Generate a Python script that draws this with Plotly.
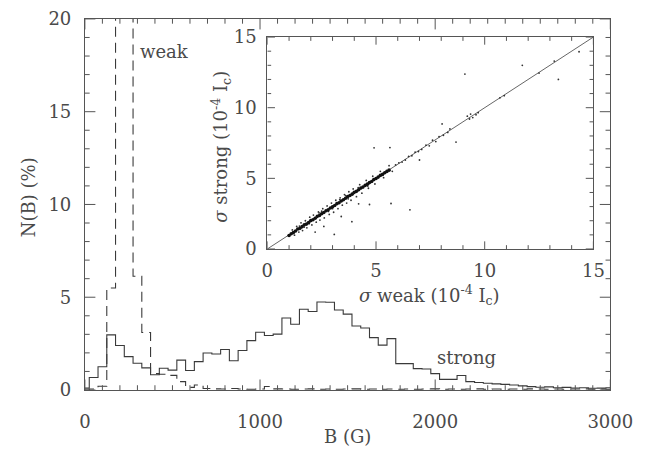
import plotly.graph_objects as go

# ---------------- data ----------------
# histogram bin centres (G)
B_centres = [0, 50, 100, 150, 200, 250, 300, 350, 400, 450, 500, 550, 600, 650, 700,
             750, 800, 850, 900, 950, 1000, 1050, 1100, 1150, 1200, 1250, 1300, 1350,
             1400, 1450, 1500, 1550, 1600, 1650, 1700, 1750, 1800, 1850, 1900, 1950,
             2000, 2050, 2100, 2150, 2200, 2250, 2300, 2350, 2400, 2450, 2500, 2550,
             2600, 2650, 2700, 2750, 2800, 2850, 2900, 2950, 3000]

N_strong = [0.10, 0.67, 1.25, 2.97, 2.40, 1.80, 1.44, 1.19, 0.82, 1.17, 1.07, 1.61,
            1.05, 1.53, 1.99, 1.94, 2.18, 1.58, 2.13, 2.66, 3.11, 2.94, 3.01, 3.88,
            3.54, 4.35, 4.23, 4.74, 4.73, 4.31, 4.09, 3.45, 3.34, 2.82, 2.42, 2.77,
            1.42, 1.42, 1.15, 1.13, 0.88, 0.57, 0.57, 0.78, 0.45, 0.40, 0.36, 0.33,
            0.30, 0.27, 0.22, 0.18, 0.15, 0.17, 0.12, 0.14, 0.11, 0.12, 0.09, 0.10, 0.12]

N_weak = [0.00, 0.05, 0.20, 5.50, 30.0, 26.0, 6.13, 3.10, 0.88, 0.85, 0.79, 0.45,
          0.14, 0.27, 0.08, 0.06, 0.05, 0.08, 0.05, 0.04, 0.05, 0.19, 0.06, 0.05,
          0.04, 0.05, 0.06, 0.04, 0.05, 0.04, 0.05, 0.06, 0.04, 0.05, 0.04, 0.05,
          0.04, 0.05, 0.04, 0.05, 0.06, 0.04, 0.05, 0.04, 0.05, 0.06, 0.04, 0.05,
          0.04, 0.05, 0.04, 0.06, 0.05, 0.04, 0.05, 0.04, 0.05, 0.06, 0.04, 0.05, 0.04]

# inset scatter: sigma weak vs sigma strong (1e-4 Ic)
core_weak = [1.0, 1.1, 1.2, 1.3, 1.4, 1.5, 1.6, 1.7, 1.8, 1.9, 2.0, 2.1, 2.2, 2.3, 2.4,
             2.5, 2.6, 2.7, 2.8, 2.9, 3.0, 3.1, 3.2, 3.3, 3.4, 3.5, 3.6, 3.7, 3.8, 3.9,
             4.0, 4.1, 4.2, 4.3, 4.4, 4.5, 4.6, 4.7, 4.8, 4.9, 5.0, 5.1, 5.2, 5.3, 5.4,
             5.5, 5.6]
core_strong = [0.95, 1.08, 1.16, 1.27, 1.41, 1.46, 1.58, 1.71, 1.76, 1.88, 2.01, 2.07,
               2.18, 2.31, 2.37, 2.49, 2.58, 2.71, 2.77, 2.90, 2.99, 3.08, 3.21, 3.27,
               3.40, 3.48, 3.59, 3.71, 3.79, 3.88, 4.01, 4.08, 4.19, 4.31, 4.38, 4.50,
               4.59, 4.70, 4.78, 4.91, 4.99, 5.09, 5.21, 5.28, 5.40, 5.49, 5.58]

halo_weak = [1.15, 1.25, 1.35, 1.45, 1.55, 1.62, 1.75, 1.82, 1.95, 2.05, 2.12, 2.25,
             2.35, 2.42, 2.55, 2.62, 2.75, 2.85, 2.95, 3.05, 3.15, 3.25, 3.35, 3.45,
             3.55, 3.65, 3.75, 3.85, 3.95, 4.10, 4.25, 4.35, 4.55, 4.65, 4.85, 4.95,
             5.20, 5.35, 5.60, 5.75, 5.90, 6.05, 6.20, 6.35, 6.50, 6.65, 6.80, 6.95,
             7.10, 7.30, 7.45, 7.60, 7.75, 7.90, 8.10, 8.30,
             3.89, 3.08, 4.91, 5.64, 5.69, 4.70, 6.56, 2.60, 3.40, 2.20, 4.20,
             8.04, 8.68, 9.09, 9.20, 9.35, 9.45, 9.60, 9.70, 9.30, 10.70, 10.90,
             11.73, 13.20, 13.39, 14.34, 12.50, 7.00, 8.40,
             1.48, 1.92, 2.38, 2.81, 3.33, 3.72, 4.18, 4.62, 1.70, 2.50, 3.00, 3.60]
halo_strong = [1.35, 0.98, 1.60, 1.20, 1.85, 1.30, 2.00, 1.50, 2.25, 1.70, 2.40, 1.90,
               2.62, 2.05, 2.85, 2.20, 3.05, 2.45, 3.25, 2.60, 3.45, 2.85, 3.62, 3.10,
               3.85, 3.25, 4.05, 3.45, 4.25, 3.70, 4.55, 3.95, 4.85, 4.30, 5.15, 4.60,
               5.50, 5.05, 5.90, 5.50, 5.95, 6.10, 6.15, 6.30, 6.55, 6.60, 6.85, 6.90,
               7.05, 7.35, 7.30, 7.70, 7.60, 7.95, 8.05, 8.25,
               1.93, 1.03, 7.16, 7.18, 3.22, 3.15, 2.77, 1.60, 2.30, 1.20, 3.20,
               8.85, 7.57, 12.38, 9.40, 9.55, 9.30, 9.50, 9.65, 9.20, 10.70, 10.85,
               13.00, 13.30, 12.00, 13.96, 12.45, 6.30, 8.50,
               1.62, 1.78, 2.55, 2.66, 3.50, 3.55, 4.35, 4.45, 1.55, 2.68, 2.85, 3.78]

diag = [0, 15]

# axis ranges and tick positions
B_range = [0, 3000]
N_range = [0, 20]
sig_range = [0, 15]
B_ticks = list(range(0, 3001, 100))
N_ticks = list(range(0, 21, 1))
sig_ticks = list(range(0, 16, 1))

# ---------------- figure ----------------
FONT = "DejaVu Serif"
TXT = "#4a4a4a"
AX = "#555555"
W, H = 662, 463
FS = 18

# subplot frames in pixels
MAIN = dict(l=82.5, r=632.0, t=8.3, b=397.0)
INS = dict(l=273.3, r=614.3, t=27.3, b=249.3)

fig = go.Figure()

fig.add_trace(go.Scatter(x=B_centres, y=N_strong, mode="lines", line_shape="hvh",
                         line=dict(color="#3a3a3a", width=1.1),
                         showlegend=False, hoverinfo="skip"))
fig.add_trace(go.Scatter(x=B_centres, y=N_weak, mode="lines", line_shape="hvh",
                         line=dict(color="#3a3a3a", width=1.1, dash="10px,6px"),
                         showlegend=False, hoverinfo="skip"))

fig.add_trace(go.Scatter(x=diag, y=diag, mode="lines", line=dict(color="#555555", width=0.9),
                         xaxis="x2", yaxis="y2", showlegend=False, hoverinfo="skip"))
fig.add_trace(go.Scatter(x=halo_weak, y=halo_strong, mode="markers",
                         marker=dict(color="#333333", size=1.8),
                         xaxis="x2", yaxis="y2", showlegend=False, hoverinfo="skip"))
fig.add_trace(go.Scatter(x=core_weak, y=core_strong, mode="markers",
                         marker=dict(color="#111111", size=3.6),
                         xaxis="x2", yaxis="y2", showlegend=False, hoverinfo="skip"))


def tick_trace(frame, xr, yr, xt, yt, x_major, y_major, Lmaj, Lmin, xa, ya):
    """Inside tick marks on all four sides, in data units of the subplot."""
    ux = (xr[1] - xr[0]) / (frame["r"] - frame["l"])   # data per pixel, x
    uy = (yr[1] - yr[0]) / (frame["b"] - frame["t"])   # data per pixel, y
    xs, ys = [], []
    for v in xt:
        L = (Lmaj if v % x_major == 0 else Lmin) * uy
        xs += [v, v, None, v, v, None]
        ys += [yr[0], yr[0] + L, None, yr[1], yr[1] - L, None]
    for v in yt:
        L = (Lmaj if v % y_major == 0 else Lmin) * ux
        xs += [xr[0], xr[0] + L, None, xr[1], xr[1] - L, None]
        ys += [v, v, None, v, v, None]
    fig.add_trace(go.Scatter(x=xs, y=ys, mode="lines", line=dict(color=AX, width=1),
                             xaxis=xa, yaxis=ya, showlegend=False, hoverinfo="skip",
                             connectgaps=False))


tick_trace(MAIN, B_range, N_range, B_ticks, N_ticks, 1000, 5, 11, 5, "x", "y")
tick_trace(INS, sig_range, sig_range, sig_ticks, sig_ticks, 5, 5, 8, 4, "x2", "y2")


def axis(domain, rng, dtick, standoff, anchor=None):
    d = dict(domain=domain, range=rng, dtick=dtick, ticks="",
             showline=True, linecolor=AX, mirror=True,
             showgrid=False, zeroline=False,
             tickfont=dict(family=FONT, size=FS, color=TXT),
             ticklabelstandoff=standoff)
    if anchor:
        d["anchor"] = anchor
    return d


fig.update_layout(
    width=W, height=H,
    margin=dict(l=0, r=0, t=0, b=0),
    paper_bgcolor="white", plot_bgcolor="rgba(0,0,0,0)",
    xaxis=axis([MAIN["l"] / W, MAIN["r"] / W], B_range, 1000, 15),
    yaxis=axis([1 - MAIN["b"] / H, 1 - MAIN["t"] / H], N_range, 5, 9),
    xaxis2=axis([INS["l"] / W, INS["r"] / W], sig_range, 5, 5, anchor="y2"),
    yaxis2=axis([1 - INS["b"] / H, 1 - INS["t"] / H], sig_range, 5, 6, anchor="x2"),
)


def ann(text, px, py, angle=0, xanchor="center"):
    fig.add_annotation(text=text, x=px / W, y=1 - py / H, xref="paper", yref="paper",
                       showarrow=False, textangle=angle, xanchor=xanchor, yanchor="middle",
                       font=dict(family=FONT, size=FS, color=TXT))


ann("weak", 138, 42, xanchor="left")
ann("strong", 482, 363)
ann("B (G)", 357, 446)
ann("N(B) (%)", 23, 195, angle=-90)
ann("<i>σ</i> weak (10<sup>-4</sup> I<sub>c</sub>)", 443, 297)
ann("<i>σ</i> strong (10<sup>-4</sup> I<sub>c</sub>)", 224, 142, angle=-90)

fig.write_html("out.html")
